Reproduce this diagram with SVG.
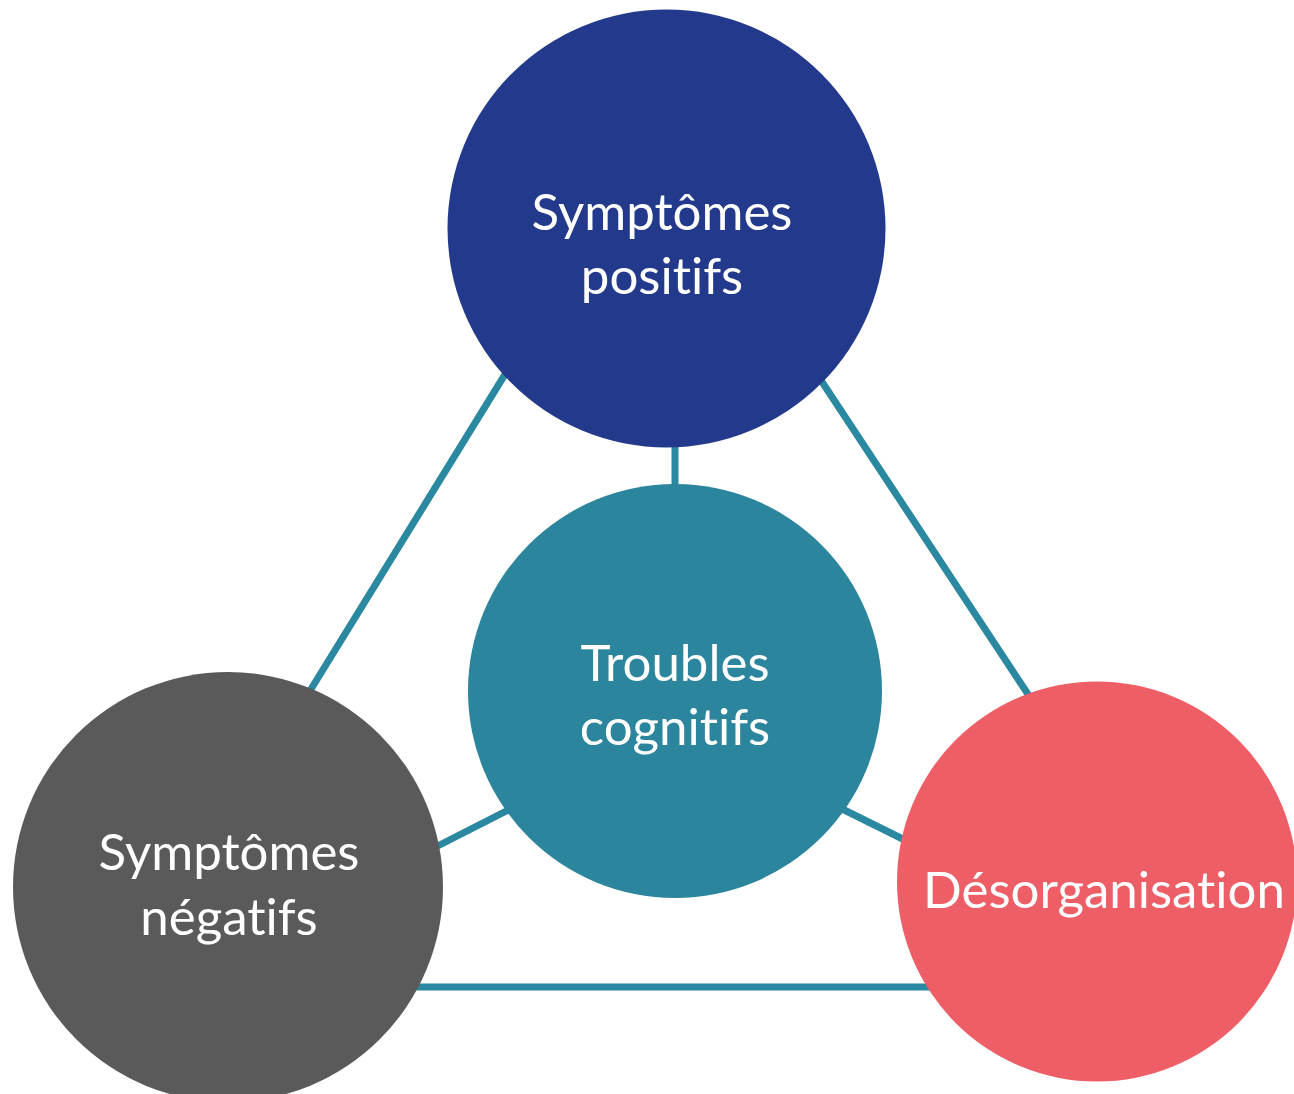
<svg xmlns="http://www.w3.org/2000/svg" width="1294" height="1094" viewBox="0 0 1294 1094">
<style>
.conn line{stroke:#2A88A0;stroke-width:7;stroke-linecap:butt}
.lbl{font-family:Lato,"Open Sans","Liberation Sans",sans-serif;font-size:51px;fill:#ffffff;text-anchor:middle;font-variant-ligatures:none;font-feature-settings:"liga" 0,"clig" 0}
</style>
<rect width="1294" height="1094" fill="#ffffff"/>
<g id="connectors" class="conn">
<line x1="520" y1="350" x2="292" y2="720"/>
<line x1="801" y1="350" x2="1045" y2="720"/>
<line x1="675" y1="430" x2="675" y2="500"/>
<line x1="420" y1="855" x2="530" y2="799"/>
<line x1="820" y1="798" x2="925" y2="850"/>
<line x1="400" y1="987" x2="945" y2="987"/>
</g>
<g id="node-positifs">
<circle cx="666.5" cy="228.5" r="219" fill="#233A8C"/>
<text class="lbl" x="662" y="230">Symptômes</text>
<text class="lbl" x="662" y="294">positifs</text>
</g>
<g id="node-cognitifs">
<circle cx="675" cy="691" r="207" fill="#2B859D"/>
<text class="lbl" x="675" y="681">Troubles</text>
<text class="lbl" x="675" y="745">cognitifs</text>
</g>
<g id="node-negatifs">
<circle cx="228" cy="887" r="215" fill="#5A5A5A"/>
<text class="lbl" x="229" y="870">Symptômes</text>
<text class="lbl" x="229" y="935">négatifs</text>
</g>
<g id="node-desorganisation">
<circle cx="1097" cy="881.5" r="200" fill="#EE5E66"/>
<text class="lbl" x="1104" y="908">Désorganisation</text>
</g>
</svg>
